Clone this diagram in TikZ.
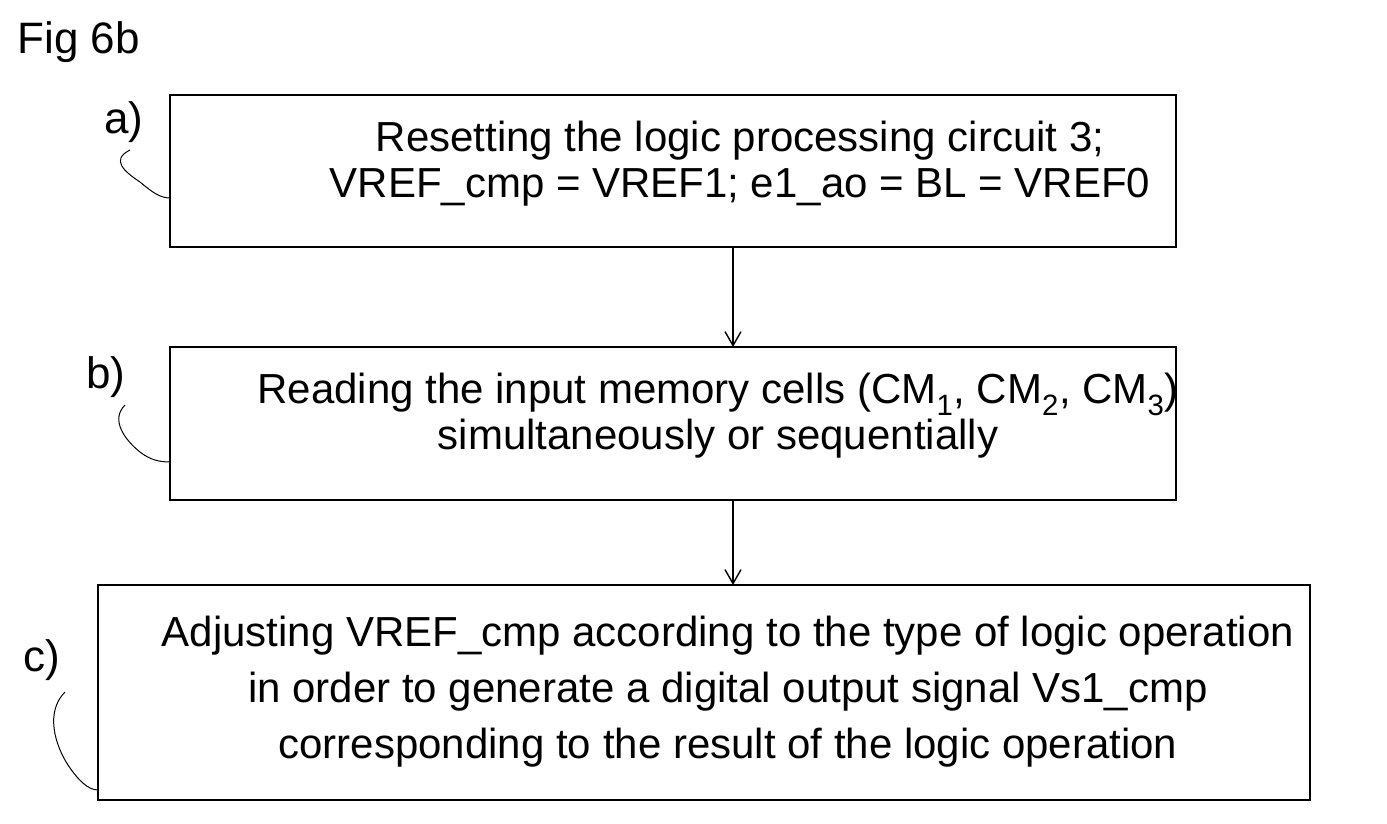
\documentclass[tikz,border=0pt]{standalone}
\usepackage{fontspec}
\setmainfont{Liberation Sans}
\usetikzlibrary{arrows.meta}
\begin{document}
\begin{tikzpicture}[x=1pt,y=-1pt,
  stepbox/.style={draw,line width=1.6pt,inner sep=0pt},
  lab/.style={font=\fontsize{44}{50}\selectfont},
  txt/.style={font=\fontsize{42}{46}\selectfont,align=center},
  arr/.style={line width=1.4pt,-{Straight Barb[length=14pt,width=16pt,line width=1.4pt]}},
  sq/.style={line width=1pt}]
\useasboundingbox (0,0) rectangle (1387,823);
\node[lab,anchor=west] (fig) at (14,42) {Fig 6b};
\draw[stepbox] (170,95) rectangle (1176,247);
\node[txt] (ta) at (740,164) {Resetting the logic processing circuit 3;\\VREF\_cmp = VREF1; e1\_ao = BL = VREF0};
\coordinate (ab) at (733,247);
\draw[stepbox] (170,347) rectangle (1176,500);
\node[txt] (tb) at (718,416) {Reading the input memory cells (CM\textsubscript{1}, CM\textsubscript{2}, CM\textsubscript{3})\\simultaneously or sequentially};
\coordinate (bt) at (733,347);
\coordinate (bb) at (733,500);
\draw[stepbox] (98,585) rectangle (1310,800);
\node[txt,font=\fontsize{42}{56}\selectfont] (tc) at (728,692) {Adjusting VREF\_cmp according to the type of logic operation\\in order to generate a digital output signal Vs1\_cmp\\corresponding to the result of the logic operation};
\coordinate (ct) at (733,585);
\draw[arr] (ab) -- (bt);
\draw[arr] (bb) -- (ct);
\node[lab] (la) at (124,122) {a)};
\node[lab] (lb) at (106,377) {b)};
\node[lab] (lc) at (42,660) {c)};
\draw[sq] (130,150) .. controls (110,160) and (125,172) .. (140,182) .. controls (152,192) and (160,198) .. (170,198);
\draw[sq] (125,405) .. controls (110,420) and (125,440) .. (140,452) .. controls (150,460) and (160,462) .. (170,462);
\draw[sq] (65,692) .. controls (45,712) and (55,745) .. (68,765) .. controls (78,780) and (88,790) .. (98,790);
\end{tikzpicture}
\end{document}
